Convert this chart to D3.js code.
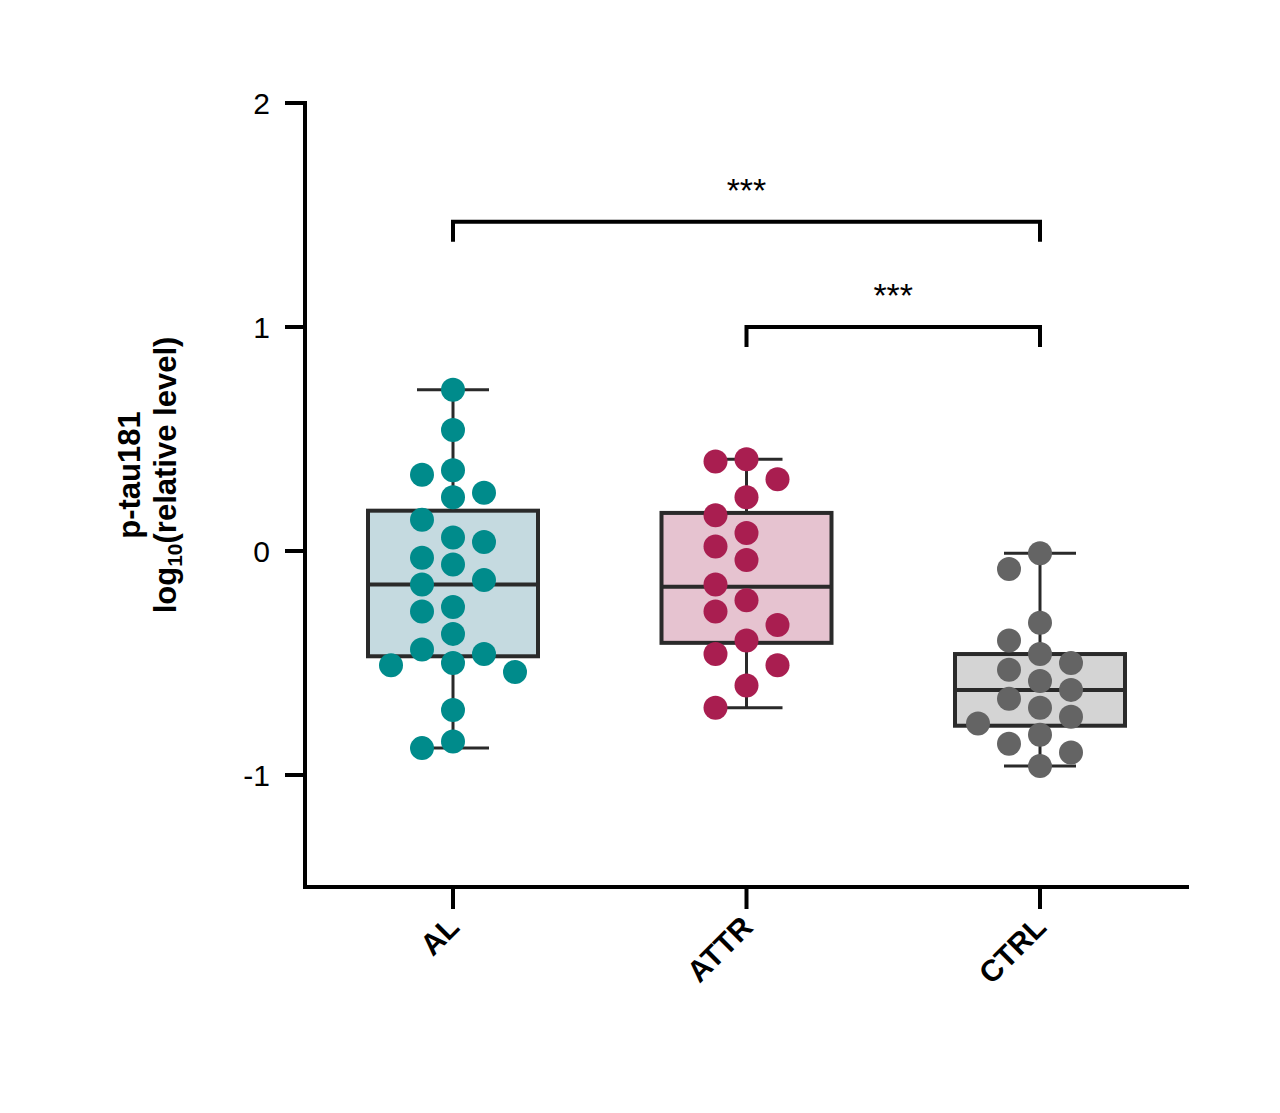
<!DOCTYPE html>
<html>
<head>
<meta charset="utf-8">
<script src="https://cdn.jsdelivr.net/npm/d3@7"></script>
<style>
  body { margin: 0; background: #fff; }
  text { font-family: Arial, "Liberation Sans", sans-serif; }
</style>
</head>
<body>
<svg id="chart" width="1280" height="1113"></svg>
<script>
// groups and their values (log10 relative level)
const groups = ["AL", "ATTR", "CTRL"];
const alValues = [0.72, 0.54, 0.36, 0.34, 0.26, 0.24, 0.14, 0.06, 0.04, -0.03, -0.06, -0.13,
  -0.15, -0.25, -0.27, -0.37, -0.44, -0.46, -0.50, -0.51, -0.54, -0.71, -0.85, -0.88];
const attrValues = [0.41, 0.40, 0.32, 0.24, 0.16, 0.08, 0.02, -0.04, -0.15, -0.22, -0.27,
  -0.33, -0.40, -0.46, -0.51, -0.60, -0.70];
const ctrlValues = [-0.01, -0.08, -0.32, -0.40, -0.46, -0.50, -0.53, -0.58, -0.62, -0.66,
  -0.70, -0.74, -0.77, -0.82, -0.86, -0.90, -0.96];
const values = [alValues, attrValues, ctrlValues];

// box stats: [min, q1, median, q3, max]
const boxStats = [
  [-0.88, -0.47, -0.15, 0.18, 0.72],
  [-0.70, -0.41, -0.16, 0.17, 0.41],
  [-0.96, -0.78, -0.62, -0.46, -0.01]
];
const dotColors = ["#008b8b", "#a91e50", "#646464"];
const boxFills = ["#c5dae0", "#e6c3d0", "#d4d4d4"];
const yTicks = [-1, 0, 1, 2];

// significance brackets: [from, to, level, label]
const brackets = [
  ["AL", "CTRL", 1.47, "***"],
  ["ATTR", "CTRL", 1.0, "***"]
];

const svg = d3.select("#chart");
const x = d3.scalePoint().domain(groups).range([453, 1040]);
const y = d3.scaleLinear().domain([-1.5, 2]).range([887, 103]);

// y axis
svg.append("line").attr("x1", 305).attr("x2", 305).attr("y1", 101).attr("y2", y(-1.5))
  .attr("stroke", "#000").attr("stroke-width", 4);
svg.selectAll(".ytick").data(yTicks).enter().append("line")
  .attr("x1", 285).attr("x2", 305).attr("y1", d => y(d)).attr("y2", d => y(d))
  .attr("stroke", "#000").attr("stroke-width", 4);
svg.selectAll(".ylab").data(yTicks).enter().append("text")
  .attr("x", 270).attr("y", d => y(d)).attr("dy", "0.36em")
  .attr("text-anchor", "end").attr("font-size", 30).text(d => d);

// x axis
svg.append("line").attr("x1", 303).attr("x2", 1189).attr("y1", y(-1.5)).attr("y2", y(-1.5))
  .attr("stroke", "#000").attr("stroke-width", 4);
svg.selectAll(".xtick").data(groups).enter().append("line")
  .attr("x1", d => x(d)).attr("x2", d => x(d)).attr("y1", y(-1.5)).attr("y2", y(-1.5) + 22)
  .attr("stroke", "#000").attr("stroke-width", 4);
svg.selectAll(".xlab").data(groups).enter().append("text")
  .attr("transform", d => "translate(" + (x(d) + 8) + "," + (y(-1.5) + 42) + ") rotate(-45)")
  .attr("text-anchor", "end").attr("font-size", 30).attr("font-weight", "bold").text(d => d);

// y title
const title = svg.append("text").attr("transform", "translate(0,475) rotate(-90)")
  .attr("text-anchor", "middle").attr("font-size", 31).attr("font-weight", "bold");
title.append("tspan").attr("x", 0).attr("y", 140).text("p-tau181");
const t2 = title.append("tspan").attr("x", 0).attr("y", 176);
t2.append("tspan").text("log");
t2.append("tspan").attr("font-size", 21).attr("dy", 6).text("10");
t2.append("tspan").attr("dy", -6).text("(relative level)");

// boxes
const halfW = 85;
groups.forEach((g, i) => {
  const s = boxStats[i], cx = x(g);
  const gb = svg.append("g").attr("stroke", "#2a2a2a");
  gb.append("line").attr("x1", cx).attr("x2", cx).attr("y1", y(s[0])).attr("y2", y(s[4]))
    .attr("stroke-width", 3);
  [s[0], s[4]].forEach(v => gb.append("line").attr("x1", cx - 36).attr("x2", cx + 36)
    .attr("y1", y(v)).attr("y2", y(v)).attr("stroke-width", 3));
  gb.append("rect").attr("x", cx - halfW).attr("width", 2 * halfW)
    .attr("y", y(s[3])).attr("height", y(s[1]) - y(s[3]))
    .attr("fill", boxFills[i]).attr("stroke-width", 4);
  gb.append("line").attr("x1", cx - halfW).attr("x2", cx + halfW)
    .attr("y1", y(s[2])).attr("y2", y(s[2])).attr("stroke-width", 4);
});

// dots, simple column beeswarm
const step = 31, r = 12;
groups.forEach((g, i) => {
  const placed = [];
  values[i].slice().sort((a, b) => b - a).forEach(v => {
    const py = y(v);
    const order = [0, -1, 1, -2, 2, -3, 3];
    for (const c of order) {
      if (!placed.some(p => p.c === c && Math.abs(p.y - py) < 2 * r + 2)) {
        placed.push({ c: c, y: py });
        break;
      }
    }
  });
  svg.append("g").selectAll("circle").data(placed).enter().append("circle")
    .attr("cx", d => x(g) + d.c * step).attr("cy", d => d.y).attr("r", r)
    .attr("fill", dotColors[i]);
});

// brackets
brackets.forEach(b => {
  const x1 = x(b[0]), x2 = x(b[1]), by = y(b[2]);
  svg.append("path")
    .attr("d", "M" + x1 + "," + (by + 20) + "V" + by + "H" + x2 + "V" + (by + 20))
    .attr("fill", "none").attr("stroke", "#000").attr("stroke-width", 4);
  svg.append("text").attr("x", (x1 + x2) / 2).attr("y", by - 20)
    .attr("text-anchor", "middle").attr("font-size", 34).text(b[3]);
});
</script>
</body>
</html>
